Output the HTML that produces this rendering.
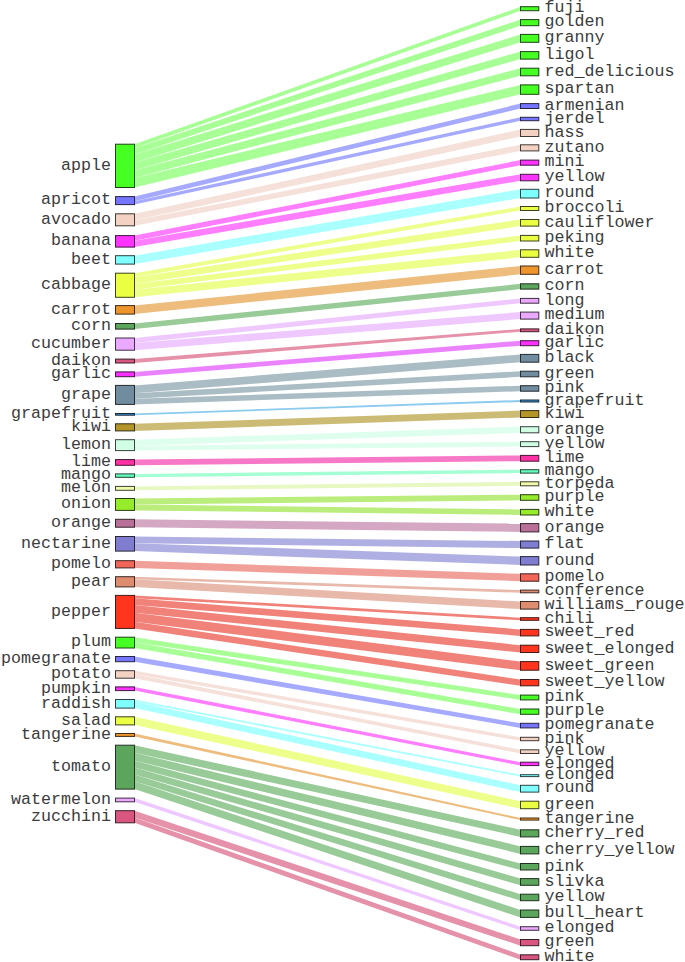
<!DOCTYPE html><html><head><meta charset="utf-8"><style>html,body{margin:0;padding:0;background:#fff;}svg{display:block;}text{font-family:"Liberation Mono",monospace;font-size:16.667px;fill:#3c3c3c;}</style></head><body><svg width="685" height="962" viewBox="0 0 685 962"><g><polygon points="134.50,144.20 520.50,6.70 520.50,10.70 134.50,148.28" fill="#a8ff96"/><polygon points="134.50,148.28 520.50,19.60 520.50,25.70 134.50,154.49" fill="#a8ff96"/><polygon points="134.50,154.49 520.50,34.40 520.50,42.30 134.50,162.54" fill="#a8ff96"/><polygon points="134.50,162.54 520.50,51.60 520.50,59.10 134.50,170.18" fill="#a8ff96"/><polygon points="134.50,170.18 520.50,68.20 520.50,75.80 134.50,177.92" fill="#a8ff96"/><polygon points="134.50,177.92 520.50,84.90 520.50,94.30 134.50,187.50" fill="#a8ff96"/><polygon points="134.50,196.60 520.50,103.60 520.50,108.50 134.50,201.32" fill="#a5aaff"/><polygon points="134.50,201.32 520.50,117.30 520.50,120.70 134.50,204.60" fill="#a5aaff"/><polygon points="134.50,213.80 520.50,129.40 520.50,136.50 134.50,220.25" fill="#f5e1da"/><polygon points="134.50,220.25 520.50,144.80 520.50,150.90 134.50,225.80" fill="#f5e1da"/><polygon points="134.50,235.60 520.50,160.10 520.50,165.20 134.50,240.66" fill="#ff7dff"/><polygon points="134.50,240.66 520.50,174.30 520.50,180.80 134.50,247.10" fill="#ff7dff"/><polygon points="134.50,255.70 520.50,189.30 520.50,198.00 134.50,264.10" fill="#aaffff"/><polygon points="134.50,273.20 520.50,206.50 520.50,210.50 134.50,277.27" fill="#eeff8c"/><polygon points="134.50,277.27 520.50,219.50 520.50,226.10 134.50,283.98" fill="#eeff8c"/><polygon points="134.50,283.98 520.50,235.40 520.50,241.00 134.50,289.67" fill="#eeff8c"/><polygon points="134.50,289.67 520.50,249.80 520.50,257.30 134.50,297.30" fill="#eeff8c"/><polygon points="134.50,305.60 520.50,266.00 520.50,274.30 134.50,314.10" fill="#eebc7d"/><polygon points="134.50,323.50 520.50,283.80 520.50,289.10 134.50,329.10" fill="#98cb98"/><polygon points="134.50,338.00 520.50,298.40 520.50,303.20 134.50,342.96" fill="#eec8ff"/><polygon points="134.50,342.96 520.50,312.10 520.50,319.10 134.50,350.20" fill="#eec8ff"/><polygon points="134.50,359.10 520.50,328.90 520.50,331.70 134.50,363.00" fill="#e691aa"/><polygon points="134.50,371.90 520.50,340.70 520.50,345.70 134.50,376.70" fill="#eb82ff"/><polygon points="134.50,385.40 520.50,354.40 520.50,362.20 134.50,393.24" fill="#aabcc4"/><polygon points="134.50,393.24 520.50,371.20 520.50,376.80 134.50,398.87" fill="#aabcc4"/><polygon points="134.50,398.87 520.50,385.70 520.50,391.20 134.50,404.40" fill="#aabcc4"/><polygon points="134.50,413.50 520.50,400.00 520.50,402.00 134.50,415.20" fill="#8ccbf0"/><polygon points="134.50,423.80 520.50,410.60 520.50,417.50 134.50,430.90" fill="#cbbb75"/><polygon points="134.50,439.70 520.50,426.70 520.50,432.80 134.50,445.74" fill="#deffee"/><polygon points="134.50,445.74 520.50,441.70 520.50,446.60 134.50,450.60" fill="#deffee"/><polygon points="134.50,459.60 520.50,455.40 520.50,461.20 134.50,465.30" fill="#f878c8"/><polygon points="134.50,473.90 520.50,469.70 520.50,473.10 134.50,477.30" fill="#a5ffd4"/><polygon points="134.50,486.40 520.50,481.80 520.50,485.80 134.50,490.30" fill="#e8f8c3"/><polygon points="134.50,498.50 520.50,494.70 520.50,500.30 134.50,504.45" fill="#bbed7d"/><polygon points="134.50,504.45 520.50,509.40 520.50,515.00 134.50,510.40" fill="#bbed7d"/><polygon points="134.50,519.30 520.50,523.60 520.50,531.90 134.50,527.20" fill="#d4a8c3"/><polygon points="134.50,536.50 520.50,541.00 520.50,548.10 134.50,543.19" fill="#afafe4"/><polygon points="134.50,543.19 520.50,556.60 520.50,565.00 134.50,551.10" fill="#afafe4"/><polygon points="134.50,560.70 520.50,573.80 520.50,581.20 134.50,567.90" fill="#f0a098"/><polygon points="134.50,576.70 520.50,590.10 520.50,592.80 134.50,579.37" fill="#e8b9aa"/><polygon points="134.50,579.37 520.50,601.50 520.50,609.10 134.50,586.90" fill="#e8b9aa"/><polygon points="134.50,595.40 520.50,617.70 520.50,620.30 134.50,598.14" fill="#f0827a"/><polygon points="134.50,598.14 520.50,629.40 520.50,635.90 134.50,604.99" fill="#f0827a"/><polygon points="134.50,604.99 520.50,645.20 520.50,652.50 134.50,612.69" fill="#f0827a"/><polygon points="134.50,612.69 520.50,661.60 520.50,670.20 134.50,621.76" fill="#f0827a"/><polygon points="134.50,621.76 520.50,679.50 520.50,685.80 134.50,628.40" fill="#f0827a"/><polygon points="134.50,637.20 520.50,695.10 520.50,699.90 134.50,642.33" fill="#a8ff96"/><polygon points="134.50,642.33 520.50,709.00 520.50,714.30 134.50,648.00" fill="#a8ff96"/><polygon points="134.50,656.50 520.50,723.30 520.50,727.90 134.50,661.70" fill="#a5aaff"/><polygon points="134.50,670.70 520.50,737.30 520.50,740.70 134.50,674.29" fill="#f5e1da"/><polygon points="134.50,674.29 520.50,749.80 520.50,753.50 134.50,678.20" fill="#f5e1da"/><polygon points="134.50,686.90 520.50,762.20 520.50,765.60 134.50,690.60" fill="#ff7dff"/><polygon points="134.50,699.50 520.50,774.70 520.50,776.60 134.50,701.38" fill="#aaffff"/><polygon points="134.50,701.38 520.50,785.30 520.50,792.10 134.50,708.10" fill="#aaffff"/><polygon points="134.50,716.80 520.50,801.20 520.50,808.70 134.50,724.90" fill="#eeff8c"/><polygon points="134.50,733.50 520.50,818.00 520.50,820.10 134.50,736.40" fill="#eebc7d"/><polygon points="134.50,745.20 520.50,829.80 520.50,836.90 134.50,752.67" fill="#98cb98"/><polygon points="134.50,752.67 520.50,846.40 520.50,853.90 134.50,760.57" fill="#98cb98"/><polygon points="134.50,760.57 520.50,863.50 520.50,870.00 134.50,767.41" fill="#98cb98"/><polygon points="134.50,767.41 520.50,878.60 520.50,885.30 134.50,774.47" fill="#98cb98"/><polygon points="134.50,774.47 520.50,894.20 520.50,900.70 134.50,781.31" fill="#98cb98"/><polygon points="134.50,781.31 520.50,910.00 520.50,917.40 134.50,789.10" fill="#98cb98"/><polygon points="134.50,798.10 520.50,926.70 520.50,930.30 134.50,801.80" fill="#eec8ff"/><polygon points="134.50,810.70 520.50,939.50 520.50,945.70 134.50,817.46" fill="#e691aa"/><polygon points="134.50,817.46 520.50,954.80 520.50,959.70 134.50,822.80" fill="#e691aa"/></g><g><rect x="115.50" y="144.20" width="19.00" height="43.30" fill="#46ff23" stroke="#1d4216" stroke-width="1"/><rect x="115.50" y="196.60" width="19.00" height="8.00" fill="#7575ff" stroke="#262642" stroke-width="1"/><rect x="115.50" y="213.80" width="19.00" height="12.00" fill="#f3d2c3" stroke="#403936" stroke-width="1"/><rect x="115.50" y="235.60" width="19.00" height="11.50" fill="#ff33ff" stroke="#421942" stroke-width="1"/><rect x="115.50" y="255.70" width="19.00" height="8.40" fill="#80ffff" stroke="#294242" stroke-width="1"/><rect x="115.50" y="273.20" width="19.00" height="24.10" fill="#eaff42" stroke="#3e421c" stroke-width="1"/><rect x="115.50" y="305.60" width="19.00" height="8.50" fill="#ee942d" stroke="#3f2d18" stroke-width="1"/><rect x="115.50" y="323.50" width="19.00" height="5.60" fill="#5ca55c" stroke="#213021" stroke-width="1"/><rect x="115.50" y="338.00" width="19.00" height="12.20" fill="#eaa8ff" stroke="#3e3142" stroke-width="1"/><rect x="115.50" y="359.10" width="19.00" height="3.90" fill="#d85680" stroke="#3a2029" stroke-width="1"/><rect x="115.50" y="371.90" width="19.00" height="4.80" fill="#fa30ff" stroke="#411942" stroke-width="1"/><rect x="115.50" y="385.40" width="19.00" height="19.00" fill="#718c9e" stroke="#262b2f" stroke-width="1"/><rect x="115.50" y="413.50" width="19.00" height="1.70" fill="#3a8fd0" stroke="#1b2c39" stroke-width="1"/><rect x="115.50" y="423.80" width="19.00" height="7.10" fill="#b49628" stroke="#332d17" stroke-width="1"/><rect x="115.50" y="439.70" width="19.00" height="10.90" fill="#d0ffe6" stroke="#39423d" stroke-width="1"/><rect x="115.50" y="459.60" width="19.00" height="5.70" fill="#ff32a5" stroke="#421930" stroke-width="1"/><rect x="115.50" y="473.90" width="19.00" height="3.40" fill="#64ffbe" stroke="#234235" stroke-width="1"/><rect x="115.50" y="486.40" width="19.00" height="3.90" fill="#f0faaa" stroke="#3f4131" stroke-width="1"/><rect x="115.50" y="498.50" width="19.00" height="11.90" fill="#96eb2a" stroke="#2d3e17" stroke-width="1"/><rect x="115.50" y="519.30" width="19.00" height="7.90" fill="#b97098" stroke="#34252d" stroke-width="1"/><rect x="115.50" y="536.50" width="19.00" height="14.60" fill="#807dd0" stroke="#292839" stroke-width="1"/><rect x="115.50" y="560.70" width="19.00" height="7.20" fill="#f2665a" stroke="#3f2321" stroke-width="1"/><rect x="115.50" y="576.70" width="19.00" height="10.20" fill="#de8c70" stroke="#3b2b25" stroke-width="1"/><rect x="115.50" y="595.40" width="19.00" height="33.00" fill="#ff351d" stroke="#421a15" stroke-width="1"/><rect x="115.50" y="637.20" width="19.00" height="10.80" fill="#46ff23" stroke="#1d4216" stroke-width="1"/><rect x="115.50" y="656.50" width="19.00" height="5.20" fill="#7575ff" stroke="#262642" stroke-width="1"/><rect x="115.50" y="670.70" width="19.00" height="7.50" fill="#f3d2c3" stroke="#403936" stroke-width="1"/><rect x="115.50" y="686.90" width="19.00" height="3.70" fill="#ff33ff" stroke="#421942" stroke-width="1"/><rect x="115.50" y="699.50" width="19.00" height="8.60" fill="#80ffff" stroke="#294242" stroke-width="1"/><rect x="115.50" y="716.80" width="19.00" height="8.10" fill="#eaff42" stroke="#3e421c" stroke-width="1"/><rect x="115.50" y="733.50" width="19.00" height="2.90" fill="#ee942d" stroke="#3f2d18" stroke-width="1"/><rect x="115.50" y="745.20" width="19.00" height="43.90" fill="#5ca55c" stroke="#213021" stroke-width="1"/><rect x="115.50" y="798.10" width="19.00" height="3.70" fill="#eaa8ff" stroke="#3e3142" stroke-width="1"/><rect x="115.50" y="810.70" width="19.00" height="12.10" fill="#d85680" stroke="#3a2029" stroke-width="1"/><rect x="520.50" y="6.70" width="18.30" height="4.00" fill="#46ff23" stroke="#1d4216" stroke-width="1"/><rect x="520.50" y="19.60" width="18.30" height="6.10" fill="#46ff23" stroke="#1d4216" stroke-width="1"/><rect x="520.50" y="34.40" width="18.30" height="7.90" fill="#46ff23" stroke="#1d4216" stroke-width="1"/><rect x="520.50" y="51.60" width="18.30" height="7.50" fill="#46ff23" stroke="#1d4216" stroke-width="1"/><rect x="520.50" y="68.20" width="18.30" height="7.60" fill="#46ff23" stroke="#1d4216" stroke-width="1"/><rect x="520.50" y="84.90" width="18.30" height="9.40" fill="#46ff23" stroke="#1d4216" stroke-width="1"/><rect x="520.50" y="103.60" width="18.30" height="4.90" fill="#7575ff" stroke="#262642" stroke-width="1"/><rect x="520.50" y="117.30" width="18.30" height="3.40" fill="#7575ff" stroke="#262642" stroke-width="1"/><rect x="520.50" y="129.40" width="18.30" height="7.10" fill="#f3d2c3" stroke="#403936" stroke-width="1"/><rect x="520.50" y="144.80" width="18.30" height="6.10" fill="#f3d2c3" stroke="#403936" stroke-width="1"/><rect x="520.50" y="160.10" width="18.30" height="5.10" fill="#ff33ff" stroke="#421942" stroke-width="1"/><rect x="520.50" y="174.30" width="18.30" height="6.50" fill="#ff33ff" stroke="#421942" stroke-width="1"/><rect x="520.50" y="189.30" width="18.30" height="8.70" fill="#80ffff" stroke="#294242" stroke-width="1"/><rect x="520.50" y="206.50" width="18.30" height="4.00" fill="#eaff42" stroke="#3e421c" stroke-width="1"/><rect x="520.50" y="219.50" width="18.30" height="6.60" fill="#eaff42" stroke="#3e421c" stroke-width="1"/><rect x="520.50" y="235.40" width="18.30" height="5.60" fill="#eaff42" stroke="#3e421c" stroke-width="1"/><rect x="520.50" y="249.80" width="18.30" height="7.50" fill="#eaff42" stroke="#3e421c" stroke-width="1"/><rect x="520.50" y="266.00" width="18.30" height="8.30" fill="#ee942d" stroke="#3f2d18" stroke-width="1"/><rect x="520.50" y="283.80" width="18.30" height="5.30" fill="#5ca55c" stroke="#213021" stroke-width="1"/><rect x="520.50" y="298.40" width="18.30" height="4.80" fill="#eaa8ff" stroke="#3e3142" stroke-width="1"/><rect x="520.50" y="312.10" width="18.30" height="7.00" fill="#eaa8ff" stroke="#3e3142" stroke-width="1"/><rect x="520.50" y="328.90" width="18.30" height="2.80" fill="#d85680" stroke="#3a2029" stroke-width="1"/><rect x="520.50" y="340.70" width="18.30" height="5.00" fill="#fa30ff" stroke="#411942" stroke-width="1"/><rect x="520.50" y="354.40" width="18.30" height="7.80" fill="#718c9e" stroke="#262b2f" stroke-width="1"/><rect x="520.50" y="371.20" width="18.30" height="5.60" fill="#718c9e" stroke="#262b2f" stroke-width="1"/><rect x="520.50" y="385.70" width="18.30" height="5.50" fill="#718c9e" stroke="#262b2f" stroke-width="1"/><rect x="520.50" y="400.00" width="18.30" height="2.00" fill="#3a8fd0" stroke="#1b2c39" stroke-width="1"/><rect x="520.50" y="410.60" width="18.30" height="6.90" fill="#b49628" stroke="#332d17" stroke-width="1"/><rect x="520.50" y="426.70" width="18.30" height="6.10" fill="#d0ffe6" stroke="#39423d" stroke-width="1"/><rect x="520.50" y="441.70" width="18.30" height="4.90" fill="#d0ffe6" stroke="#39423d" stroke-width="1"/><rect x="520.50" y="455.40" width="18.30" height="5.80" fill="#ff32a5" stroke="#421930" stroke-width="1"/><rect x="520.50" y="469.70" width="18.30" height="3.40" fill="#64ffbe" stroke="#234235" stroke-width="1"/><rect x="520.50" y="481.80" width="18.30" height="4.00" fill="#f0faaa" stroke="#3f4131" stroke-width="1"/><rect x="520.50" y="494.70" width="18.30" height="5.60" fill="#96eb2a" stroke="#2d3e17" stroke-width="1"/><rect x="520.50" y="509.40" width="18.30" height="5.60" fill="#96eb2a" stroke="#2d3e17" stroke-width="1"/><rect x="520.50" y="523.60" width="18.30" height="8.30" fill="#b97098" stroke="#34252d" stroke-width="1"/><rect x="520.50" y="541.00" width="18.30" height="7.10" fill="#807dd0" stroke="#292839" stroke-width="1"/><rect x="520.50" y="556.60" width="18.30" height="8.40" fill="#807dd0" stroke="#292839" stroke-width="1"/><rect x="520.50" y="573.80" width="18.30" height="7.40" fill="#f2665a" stroke="#3f2321" stroke-width="1"/><rect x="520.50" y="590.10" width="18.30" height="2.70" fill="#de8c70" stroke="#3b2b25" stroke-width="1"/><rect x="520.50" y="601.50" width="18.30" height="7.60" fill="#de8c70" stroke="#3b2b25" stroke-width="1"/><rect x="520.50" y="617.70" width="18.30" height="2.60" fill="#ff351d" stroke="#421a15" stroke-width="1"/><rect x="520.50" y="629.40" width="18.30" height="6.50" fill="#ff351d" stroke="#421a15" stroke-width="1"/><rect x="520.50" y="645.20" width="18.30" height="7.30" fill="#ff351d" stroke="#421a15" stroke-width="1"/><rect x="520.50" y="661.60" width="18.30" height="8.60" fill="#ff351d" stroke="#421a15" stroke-width="1"/><rect x="520.50" y="679.50" width="18.30" height="6.30" fill="#ff351d" stroke="#421a15" stroke-width="1"/><rect x="520.50" y="695.10" width="18.30" height="4.80" fill="#46ff23" stroke="#1d4216" stroke-width="1"/><rect x="520.50" y="709.00" width="18.30" height="5.30" fill="#46ff23" stroke="#1d4216" stroke-width="1"/><rect x="520.50" y="723.30" width="18.30" height="4.60" fill="#7575ff" stroke="#262642" stroke-width="1"/><rect x="520.50" y="737.30" width="18.30" height="3.40" fill="#f3d2c3" stroke="#403936" stroke-width="1"/><rect x="520.50" y="749.80" width="18.30" height="3.70" fill="#f3d2c3" stroke="#403936" stroke-width="1"/><rect x="520.50" y="762.20" width="18.30" height="3.40" fill="#ff33ff" stroke="#421942" stroke-width="1"/><rect x="520.50" y="774.70" width="18.30" height="1.90" fill="#80ffff" stroke="#294242" stroke-width="1"/><rect x="520.50" y="785.30" width="18.30" height="6.80" fill="#80ffff" stroke="#294242" stroke-width="1"/><rect x="520.50" y="801.20" width="18.30" height="7.50" fill="#eaff42" stroke="#3e421c" stroke-width="1"/><rect x="520.50" y="818.00" width="18.30" height="2.10" fill="#ee942d" stroke="#3f2d18" stroke-width="1"/><rect x="520.50" y="829.80" width="18.30" height="7.10" fill="#5ca55c" stroke="#213021" stroke-width="1"/><rect x="520.50" y="846.40" width="18.30" height="7.50" fill="#5ca55c" stroke="#213021" stroke-width="1"/><rect x="520.50" y="863.50" width="18.30" height="6.50" fill="#5ca55c" stroke="#213021" stroke-width="1"/><rect x="520.50" y="878.60" width="18.30" height="6.70" fill="#5ca55c" stroke="#213021" stroke-width="1"/><rect x="520.50" y="894.20" width="18.30" height="6.50" fill="#5ca55c" stroke="#213021" stroke-width="1"/><rect x="520.50" y="910.00" width="18.30" height="7.40" fill="#5ca55c" stroke="#213021" stroke-width="1"/><rect x="520.50" y="926.70" width="18.30" height="3.60" fill="#eaa8ff" stroke="#3e3142" stroke-width="1"/><rect x="520.50" y="939.50" width="18.30" height="6.20" fill="#d85680" stroke="#3a2029" stroke-width="1"/><rect x="520.50" y="954.80" width="18.30" height="4.90" fill="#d85680" stroke="#3a2029" stroke-width="1"/></g><g><text x="111.00" y="169.60" text-anchor="end">apple</text><text x="111.00" y="204.35" text-anchor="end">apricot</text><text x="111.00" y="223.55" text-anchor="end">avocado</text><text x="111.00" y="245.10" text-anchor="end">banana</text><text x="111.00" y="263.65" text-anchor="end">beet</text><text x="111.00" y="289.00" text-anchor="end">cabbage</text><text x="111.00" y="313.60" text-anchor="end">carrot</text><text x="111.00" y="330.05" text-anchor="end">corn</text><text x="111.00" y="347.85" text-anchor="end">cucumber</text><text x="111.00" y="364.80" text-anchor="end">daikon</text><text x="111.00" y="378.05" text-anchor="end">garlic</text><text x="111.00" y="398.65" text-anchor="end">grape</text><text x="111.00" y="418.10" text-anchor="end">grapefruit</text><text x="111.00" y="431.10" text-anchor="end">kiwi</text><text x="111.00" y="448.90" text-anchor="end">lemon</text><text x="111.00" y="466.20" text-anchor="end">lime</text><text x="111.00" y="479.35" text-anchor="end">mango</text><text x="111.00" y="492.10" text-anchor="end">melon</text><text x="111.00" y="508.20" text-anchor="end">onion</text><text x="111.00" y="527.00" text-anchor="end">orange</text><text x="111.00" y="547.55" text-anchor="end">nectarine</text><text x="111.00" y="568.05" text-anchor="end">pomelo</text><text x="111.00" y="585.55" text-anchor="end">pear</text><text x="111.00" y="615.65" text-anchor="end">pepper</text><text x="111.00" y="646.35" text-anchor="end">plum</text><text x="111.00" y="662.85" text-anchor="end">pomegranate</text><text x="111.00" y="678.20" text-anchor="end">potato</text><text x="111.00" y="692.50" text-anchor="end">pumpkin</text><text x="111.00" y="707.55" text-anchor="end">raddish</text><text x="111.00" y="724.60" text-anchor="end">salad</text><text x="111.00" y="738.70" text-anchor="end">tangerine</text><text x="111.00" y="770.90" text-anchor="end">tomato</text><text x="111.00" y="803.70" text-anchor="end">watermelon</text><text x="111.00" y="820.50" text-anchor="end">zucchini</text><text x="544.60" y="12.45">fuji</text><text x="544.60" y="26.40">golden</text><text x="544.60" y="42.10">granny</text><text x="544.60" y="59.10">ligol</text><text x="544.60" y="75.75">red_delicious</text><text x="544.60" y="93.35">spartan</text><text x="544.60" y="109.80">armenian</text><text x="544.60" y="122.75">jerdel</text><text x="544.60" y="136.70">hass</text><text x="544.60" y="151.60">zutano</text><text x="544.60" y="166.40">mini</text><text x="544.60" y="181.30">yellow</text><text x="544.60" y="197.40">round</text><text x="544.60" y="212.25">broccoli</text><text x="544.60" y="226.55">cauliflower</text><text x="544.60" y="241.95">peking</text><text x="544.60" y="257.30">white</text><text x="544.60" y="273.90">carrot</text><text x="544.60" y="290.20">corn</text><text x="544.60" y="304.55">long</text><text x="544.60" y="319.35">medium</text><text x="544.60" y="334.05">daikon</text><text x="544.60" y="346.95">garlic</text><text x="544.60" y="362.05">black</text><text x="544.60" y="377.75">green</text><text x="544.60" y="392.20">pink</text><text x="544.60" y="404.75">grapefruit</text><text x="544.60" y="417.80">kiwi</text><text x="544.60" y="433.50">orange</text><text x="544.60" y="447.90">yellow</text><text x="544.60" y="462.05">lime</text><text x="544.60" y="475.15">mango</text><text x="544.60" y="487.55">torpeda</text><text x="544.60" y="501.25">purple</text><text x="544.60" y="515.95">white</text><text x="544.60" y="531.50">orange</text><text x="544.60" y="548.30">flat</text><text x="544.60" y="564.55">round</text><text x="544.60" y="581.25">pomelo</text><text x="544.60" y="595.20">conference</text><text x="544.60" y="609.05">williams_rouge</text><text x="544.60" y="622.75">chili</text><text x="544.60" y="636.40">sweet_red</text><text x="544.60" y="652.60">sweet_elonged</text><text x="544.60" y="669.65">sweet_green</text><text x="544.60" y="686.40">sweet_yellow</text><text x="544.60" y="701.25">pink</text><text x="544.60" y="715.40">purple</text><text x="544.60" y="729.35">pomegranate</text><text x="544.60" y="742.75">pink</text><text x="544.60" y="755.40">yellow</text><text x="544.60" y="767.65">elonged</text><text x="544.60" y="779.40">elonged</text><text x="544.60" y="792.45">round</text><text x="544.60" y="808.70">green</text><text x="544.60" y="822.80">tangerine</text><text x="544.60" y="837.10">cherry_red</text><text x="544.60" y="853.90">cherry_yellow</text><text x="544.60" y="870.50">pink</text><text x="544.60" y="885.70">slivka</text><text x="544.60" y="901.20">yellow</text><text x="544.60" y="917.45">bull_heart</text><text x="544.60" y="932.25">elonged</text><text x="544.60" y="946.35">green</text><text x="544.60" y="961.00">white</text></g></svg></body></html>
